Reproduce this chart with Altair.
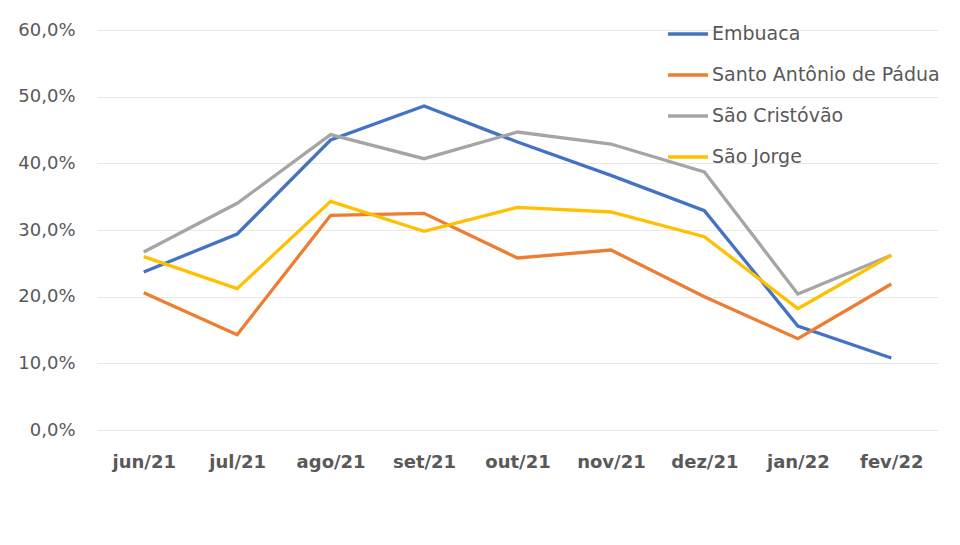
import altair as alt
import pandas as pd

months = ["jun/21", "jul/21", "ago/21", "set/21", "out/21", "nov/21", "dez/21", "jan/22", "fev/22"]
series = ["Embuaca", "Santo Antônio de Pádua", "São Cristóvão", "São Jorge"]
embuaca = [23.7, 29.4, 43.5, 48.6, 43.2, 38.2, 32.9, 15.6, 10.8]
santo_antonio = [20.6, 14.3, 32.2, 32.5, 25.8, 27.0, 20.0, 13.7, 21.9]
sao_cristovao = [26.7, 34.0, 44.3, 40.7, 44.7, 42.9, 38.7, 20.4, 26.2]
sao_jorge = [26.0, 21.2, 34.3, 29.8, 33.4, 32.7, 29.0, 18.2, 26.2]
colors = ["#4472C4", "#ED7D31", "#A5A5A5", "#FFC000"]

rows = []
for name, vals in zip(series, [embuaca, santo_antonio, sao_cristovao, sao_jorge]):
    for m, v in zip(months, vals):
        rows.append({"mes": m, "serie": name, "valor": v / 100.0, "ordem": series.index(name)})
df = pd.DataFrame(rows)

FONT = "DejaVu Sans"

chart = alt.Chart(df).mark_line(strokeWidth=3.3).encode(
    x=alt.X("mes:N", sort=months, title=None,
            scale=alt.Scale(paddingInner=0, paddingOuter=0.5),
            axis=alt.Axis(labelAngle=0, labelFontSize=18, labelColor="#595959",
                          labelFontWeight="bold", labelPadding=23, ticks=False,
                          domain=False, grid=False)),
    y=alt.Y("valor:Q", title=None,
            scale=alt.Scale(domain=[0, 0.6], nice=False),
            axis=alt.Axis(values=[0, 0.1, 0.2, 0.3, 0.4, 0.5, 0.6],
                          labelExpr="replace(format(datum.value, '.1%'), '.', ',')",
                          labelFontSize=18, labelColor="#595959", labelPadding=22,
                          ticks=False, domain=False, gridColor="#E8E8E8",
                          gridWidth=1.2)),
    color=alt.Color("serie:N", sort=series, title=None,
                    scale=alt.Scale(domain=series, range=colors),
                    legend=alt.Legend(orient="none", legendX=569, legendY=-18,
                                      symbolType="stroke", symbolSize=1600,
                                      symbolStrokeWidth=3.3, labelFontSize=19,
                                      labelColor="#595959", labelOffset=2,
                                      rowPadding=9, labelLimit=400)),
    order=alt.Order("ordem:Q"),
    detail="serie:N",
).properties(
    width=841, height=400,
    autosize=alt.AutoSizeParams(type="none"),
    padding={"left": 89, "top": 22, "right": 14, "bottom": 98},
).configure(
    font=FONT,
).configure_view(
    stroke="transparent", strokeWidth=0,
).configure_axis(
    labelFont=FONT,
).configure_legend(
    labelFont=FONT,
)

chart.save("out.html", embed_options={"renderer": "svg", "actions": False})
